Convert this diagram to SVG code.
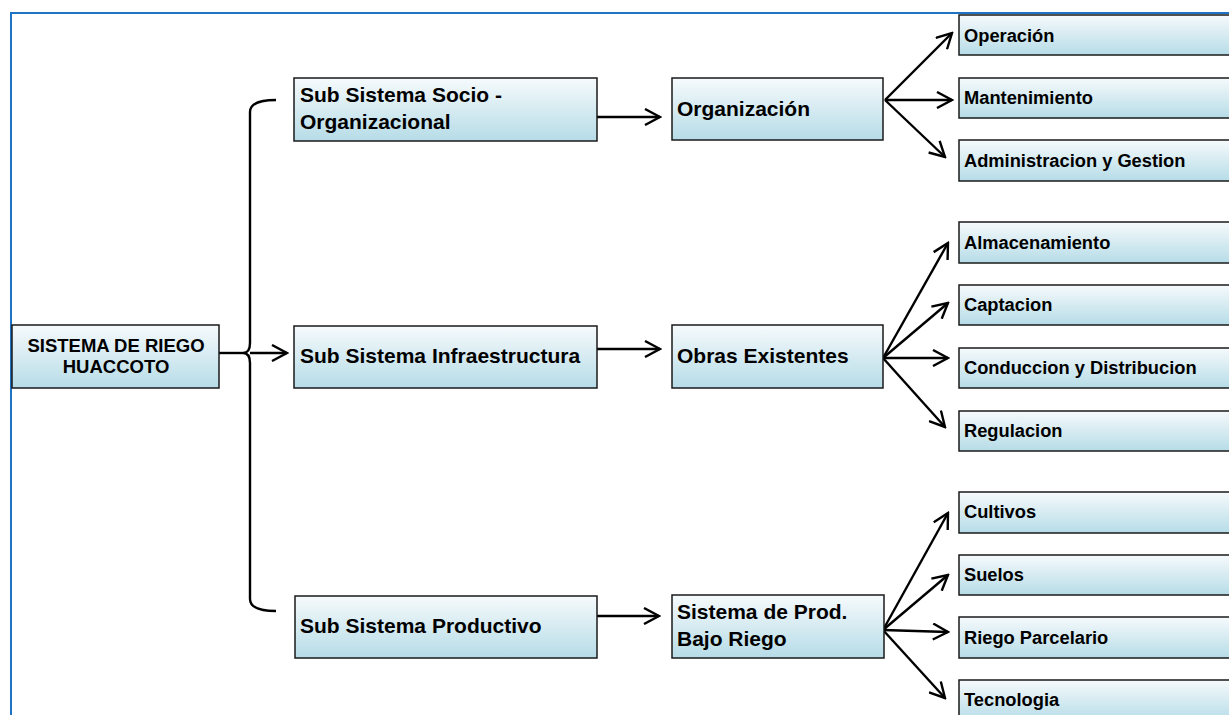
<svg xmlns="http://www.w3.org/2000/svg" width="1229" height="715" viewBox="0 0 1229 715">
<defs>
<linearGradient id="g" x1="0" y1="0" x2="0" y2="1">
<stop offset="0" stop-color="#f6fafc"/>
<stop offset="1" stop-color="#b6dce7"/>
</linearGradient>
<marker id="ah" viewBox="0 0 18 18" refX="16" refY="9" markerWidth="18" markerHeight="18" markerUnits="userSpaceOnUse" orient="auto">
<path d="M1,1 L16,9 L1,17" fill="none" stroke="#000" stroke-width="2.4" stroke-linejoin="miter"/>
</marker>
<style>
.box{fill:url(#g);stroke:#1a1a1a;stroke-width:1.5}
.t{font-family:"Liberation Sans",Arial,sans-serif;font-weight:bold;fill:#000}
.big{font-size:21px}
.sm{font-size:18.3px}
.main{font-size:18.5px;text-anchor:middle}
.c{fill:none;stroke:#000;stroke-width:2.4}
</style>
</defs>
<rect width="1229" height="715" fill="#fff"/>
<path d="M11,715 L11,13 L1229,13" fill="none" stroke="#1f73c4" stroke-width="2"/>

<g id="connectors">
<path class="c" d="M276,100 Q250,100 250,112 L250,343 Q250,353 243,353 Q250,353 250,363 L250,599 Q250,611 276,611"/>
<line class="c" x1="219" y1="353" x2="243" y2="353"/>
<line class="c" x1="250" y1="353" x2="287" y2="353" marker-end="url(#ah)"/>
<line class="c" x1="597" y1="117" x2="660" y2="117" marker-end="url(#ah)"/>
<line class="c" x1="597" y1="349" x2="660" y2="349" marker-end="url(#ah)"/>
<line class="c" x1="597" y1="616" x2="659" y2="616" marker-end="url(#ah)"/>
<line class="c" x1="885" y1="100" x2="952" y2="33" marker-end="url(#ah)"/>
<line class="c" x1="885" y1="100" x2="952" y2="100" marker-end="url(#ah)"/>
<line class="c" x1="885" y1="100" x2="945" y2="157" marker-end="url(#ah)"/>
<line class="c" x1="883" y1="358" x2="948" y2="243" marker-end="url(#ah)"/>
<line class="c" x1="883" y1="358" x2="948" y2="303" marker-end="url(#ah)"/>
<line class="c" x1="883" y1="358" x2="948" y2="358" marker-end="url(#ah)"/>
<line class="c" x1="883" y1="358" x2="945" y2="427" marker-end="url(#ah)"/>
<line class="c" x1="883" y1="630" x2="948" y2="513" marker-end="url(#ah)"/>
<line class="c" x1="883" y1="630" x2="948" y2="575" marker-end="url(#ah)"/>
<line class="c" x1="883" y1="630" x2="948" y2="632" marker-end="url(#ah)"/>
<line class="c" x1="883" y1="630" x2="945" y2="698" marker-end="url(#ah)"/>
</g>

<g id="n-main"><rect class="box" x="12" y="325" width="207" height="63"/>
<text class="t main" x="116" y="352">SISTEMA DE RIEGO</text>
<text class="t main" x="116" y="373">HUACCOTO</text></g>

<g id="n-socio"><rect class="box" x="294" y="78" width="303" height="63"/>
<text class="t big" x="300" y="102">Sub Sistema Socio -</text>
<text class="t big" x="300" y="129">Organizacional</text></g>
<g id="n-infra"><rect class="box" x="294" y="326" width="303" height="62"/>
<text class="t big" x="300" y="363">Sub Sistema Infraestructura</text></g>
<g id="n-prod"><rect class="box" x="295" y="596" width="302" height="62"/>
<text class="t big" x="300" y="633">Sub Sistema Productivo</text></g>

<g id="n-org"><rect class="box" x="672" y="78" width="211" height="62"/>
<text class="t big" x="677" y="116">Organización</text></g>
<g id="n-obras"><rect class="box" x="672" y="325" width="211" height="63"/>
<text class="t big" x="677" y="363">Obras Existentes</text></g>
<g id="n-sprod"><rect class="box" x="672" y="595" width="212" height="63"/>
<text class="t big" x="677" y="619">Sistema de Prod.</text>
<text class="t big" x="677" y="646">Bajo Riego</text></g>

<g id="n-operacion"><rect class="box" x="959" y="15" width="300" height="40"/>
<text class="t sm" x="964" y="42">Operación</text></g>
<g id="n-mant"><rect class="box" x="959" y="78" width="300" height="40"/>
<text class="t sm" x="964" y="104">Mantenimiento</text></g>
<g id="n-admin"><rect class="box" x="959" y="140" width="300" height="41"/>
<text class="t sm" x="964" y="167">Administracion y Gestion</text></g>

<g id="n-alm"><rect class="box" x="959" y="222" width="300" height="41"/>
<text class="t sm" x="964" y="249">Almacenamiento</text></g>
<g id="n-capt"><rect class="box" x="959" y="285" width="300" height="40"/>
<text class="t sm" x="964" y="311">Captacion</text></g>
<g id="n-cond"><rect class="box" x="959" y="348" width="300" height="40"/>
<text class="t sm" x="964" y="374">Conduccion y Distribucion</text></g>
<g id="n-reg"><rect class="box" x="959" y="411" width="300" height="40"/>
<text class="t sm" x="964" y="437">Regulacion</text></g>

<g id="n-cult"><rect class="box" x="959" y="492" width="300" height="41"/>
<text class="t sm" x="964" y="518">Cultivos</text></g>
<g id="n-suelos"><rect class="box" x="959" y="555" width="300" height="40"/>
<text class="t sm" x="964" y="581">Suelos</text></g>
<g id="n-riego"><rect class="box" x="959" y="617" width="300" height="41"/>
<text class="t sm" x="964" y="644">Riego Parcelario</text></g>
<g id="n-tec"><rect class="box" x="959" y="680" width="300" height="41"/>
<text class="t sm" x="964" y="706">Tecnologia</text></g>
</svg>
